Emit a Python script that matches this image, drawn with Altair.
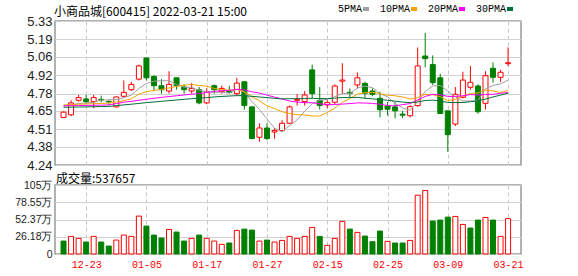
import altair as alt
import pandas as pd

# ---------------- data ----------------
dates = ["12-20", "12-21", "12-22", "12-23", "12-24", "12-27", "12-28", "12-29", "12-30", "12-31",
         "01-04", "01-05", "01-06", "01-07", "01-10", "01-11", "01-12", "01-13", "01-14", "01-17",
         "01-18", "01-19", "01-20", "01-21", "01-24", "01-25", "01-26", "01-27", "01-28", "02-07",
         "02-08", "02-09", "02-10", "02-11", "02-14", "02-15", "02-16", "02-17", "02-18", "02-21",
         "02-22", "02-23", "02-24", "02-25", "02-28", "03-01", "03-02", "03-03", "03-04", "03-07",
         "03-08", "03-09", "03-10", "03-11", "03-14", "03-15", "03-16", "03-17", "03-18", "03-21"]

opens = [4.60, 4.62, 4.73, 4.74, 4.72, 4.737, 4.722, 4.68, 4.76, 4.81,
         4.89, 5.05, 4.91, 4.84, 4.80, 4.90, 4.83, 4.80, 4.81, 4.71,
         4.84, 4.795, 4.80, 4.78, 4.87, 4.68, 4.45, 4.52, 4.49, 4.50,
         4.556, 4.73, 4.72, 4.96, 4.73, 4.695, 4.715, 4.875, 4.79, 4.846,
         4.858, 4.80, 4.745, 4.687, 4.68, 4.625, 4.613, 4.69, 5.065, 5.00,
         4.90, 4.65, 4.55, 4.752, 4.828, 4.838, 4.707, 4.972, 4.904, 5.007]
closes = [4.64, 4.71, 4.75, 4.72, 4.75, 4.732, 4.717, 4.755, 4.79, 4.85,
          4.99, 4.90, 4.84, 4.81, 4.85, 4.84, 4.81, 4.82, 4.71, 4.795,
          4.81, 4.82, 4.79, 4.86, 4.69, 4.44, 4.52, 4.44, 4.50, 4.556,
          4.68, 4.735, 4.77, 4.78, 4.69, 4.712, 4.838, 4.883, 4.783, 4.90,
          4.783, 4.775, 4.658, 4.662, 4.65, 4.617, 4.681, 4.99, 5.045, 4.863,
          4.63, 4.47, 4.775, 4.883, 4.866, 4.643, 4.916, 4.904, 4.942, 5.014]
highs = [4.645, 4.73, 4.77, 4.77, 4.77, 4.765, 4.73, 4.76, 4.88, 4.87,
         5.00, 5.05, 4.92, 4.89, 4.95, 4.90, 4.85, 4.86, 4.83, 4.82,
         4.85, 4.84, 4.84, 4.90, 4.87, 4.68, 4.556, 4.556, 4.52, 4.58,
         4.69, 4.777, 4.80, 5.00, 4.83, 4.73, 4.85, 5.01, 4.82, 4.94,
         4.87, 4.82, 4.795, 4.717, 4.715, 4.65, 4.694, 5.13, 5.24, 5.07,
         4.93, 4.65, 4.83, 4.946, 4.99, 4.851, 4.95, 5.017, 4.96, 5.13]
lows = [4.595, 4.61, 4.72, 4.70, 4.67, 4.715, 4.69, 4.675, 4.75, 4.80,
        4.88, 4.88, 4.80, 4.78, 4.78, 4.81, 4.78, 4.78, 4.70, 4.70,
        4.78, 4.78, 4.78, 4.765, 4.66, 4.435, 4.416, 4.43, 4.44, 4.49,
        4.55, 4.69, 4.69, 4.745, 4.66, 4.67, 4.70, 4.78, 4.75, 4.82,
        4.745, 4.76, 4.60, 4.615, 4.593, 4.595, 4.60, 4.68, 4.98, 4.846,
        4.628, 4.34, 4.535, 4.745, 4.81, 4.628, 4.66, 4.863, 4.87, 4.99]

# volume in 万 shares, and bar colour direction as drawn
volumes = [19.7, 26.8, 23.8, 18.2, 26.8, 18.2, 12.1, 21.2, 28.8, 26.8,
           57.7, 42.5, 28.8, 24.3, 37.4, 33.4, 19.7, 23.8, 28.8, 23.8,
           19.7, 14.7, 16.7, 35.9, 37.9, 36.4, 19.7, 21.2, 18.2, 20.7,
           26.8, 23.8, 26.8, 40.5, 26.8, 13.2, 23.8, 49.6, 37.9, 32.9,
           27.3, 18.7, 34.9, 19.2, 16.7, 16.7, 20.7, 89.5, 96.6, 50.1,
           51.6, 56.1, 57.2, 45.0, 39.5, 51.6, 55.6, 51.6, 26.8, 53.7657]
vol_dir = ["down", "up", "up", "down", "up", "down", "down", "up", "up", "up",
           "up", "down", "down", "down", "up", "down", "down", "up", "down", "up",
           "up", "up", "down", "up", "down", "down", "up", "down", "up", "up",
           "up", "up", "up", "up", "down", "up", "up", "up", "down", "up",
           "down", "down", "down", "up", "down", "down", "up", "up", "up", "down",
           "down", "down", "up", "up", "down", "down", "up", "down", "up", "up"]

ma5 = [4.685, 4.695, 4.705, 4.71, 4.714, 4.732, 4.734, 4.735, 4.749, 4.769,
       4.820, 4.857, 4.874, 4.878, 4.878, 4.848, 4.830, 4.826, 4.806, 4.795,
       4.789, 4.791, 4.785, 4.815, 4.794, 4.720, 4.660, 4.590, 4.518, 4.491,
       4.539, 4.582, 4.648, 4.704, 4.731, 4.737, 4.758, 4.781, 4.781, 4.823,
       4.837, 4.825, 4.780, 4.756, 4.706, 4.672, 4.654, 4.720, 4.797, 4.839,
       4.842, 4.800, 4.757, 4.724, 4.725, 4.727, 4.817, 4.842, 4.854, 4.883]
ma10 = [4.695, 4.697, 4.700, 4.702, 4.704, 4.706, 4.709, 4.716, 4.726, 4.741,
        4.776, 4.795, 4.804, 4.813, 4.823, 4.834, 4.844, 4.850, 4.842, 4.837,
        4.819, 4.811, 4.806, 4.811, 4.795, 4.755, 4.726, 4.688, 4.667, 4.643,
        4.630, 4.621, 4.619, 4.611, 4.611, 4.638, 4.670, 4.714, 4.743, 4.777,
        4.787, 4.791, 4.780, 4.768, 4.764, 4.755, 4.739, 4.750, 4.776, 4.772,
        4.757, 4.727, 4.738, 4.760, 4.782, 4.785, 4.808, 4.800, 4.789, 4.804]
ma20 = [4.688, 4.689, 4.690, 4.691, 4.692, 4.693, 4.695, 4.705, 4.715, 4.722,
        4.730, 4.738, 4.745, 4.752, 4.758, 4.764, 4.770, 4.776, 4.781, 4.789,
        4.797, 4.803, 4.805, 4.812, 4.809, 4.794, 4.785, 4.769, 4.754, 4.740,
        4.724, 4.716, 4.712, 4.711, 4.703, 4.696, 4.698, 4.701, 4.705, 4.710,
        4.709, 4.706, 4.700, 4.690, 4.688, 4.697, 4.705, 4.732, 4.759, 4.775,
        4.772, 4.759, 4.759, 4.764, 4.773, 4.770, 4.774, 4.775, 4.783, 4.788]
ma30 = [4.677, 4.678, 4.679, 4.680, 4.681, 4.682, 4.683, 4.690, 4.695, 4.700,
        4.706, 4.712, 4.717, 4.722, 4.727, 4.732, 4.737, 4.742, 4.746, 4.750,
        4.755, 4.759, 4.762, 4.765, 4.765, 4.760, 4.755, 4.750, 4.745, 4.740,
        4.742, 4.742, 4.743, 4.745, 4.743, 4.742, 4.746, 4.751, 4.750, 4.752,
        4.745, 4.741, 4.735, 4.730, 4.723, 4.716, 4.712, 4.717, 4.728, 4.731,
        4.725, 4.713, 4.713, 4.713, 4.719, 4.726, 4.739, 4.755, 4.769, 4.784]

ma_names = ["5PMA", "10PMA", "20PMA", "30PMA"]
price_ticks = [4.24, 4.38, 4.51, 4.65, 4.78, 4.92, 5.06, 5.19, 5.33]
vol_ticks = [0, 26.18, 52.37, 78.55, 105]
date_ticks = ["12-23", "01-05", "01-17", "01-27", "02-15", "02-25", "03-09", "03-21"]
title_text = "小商品城[600415] 2022-03-21 15:00"

# ---------------- styling ----------------
RED = "#ff0000"
GREEN = "#008000"
ma_colors = ["#a0a0a0", "#f5a300", "#ff00ff", "#00703a"]
GRID = "#d2d2d2"
VGRID = "#c8c8c8"

n = len(dates)
df = pd.DataFrame({"i": list(range(n)), "date": dates, "open": opens, "close": closes,
                   "high": highs, "low": lows, "vol": volumes, "vdir": vol_dir})
df["dir"] = ["up" if c >= o else "down" for o, c in zip(opens, closes)]

ma_rows = []
for name, vals in zip(ma_names, [ma5, ma10, ma20, ma30]):
    for k, v in enumerate(vals):
        ma_rows.append({"i": k, "ma": name, "value": v})
ma_df = pd.DataFrame(ma_rows)

tick_idx = [dates.index(d) for d in date_ticks]
label_arr = "[" + ",".join("'" + d + "'" for d in dates) + "]"
label_expr = label_arr + "[round(datum.value)]"

xscale = alt.Scale(domain=[-0.47, 60.05], nice=False, zero=False)
pscale = alt.Scale(domain=[4.24, 5.33], nice=False, zero=False)
vscale = alt.Scale(domain=[0, 105], nice=False)

stroke_scale = alt.Scale(domain=["up", "down"], range=[RED, GREEN])
fill_scale = alt.Scale(domain=["up", "down"], range=["#ffffff", GREEN])

x_price = alt.X("i:Q", scale=xscale,
                axis=alt.Axis(values=tick_idx, labels=False, ticks=False, domain=False,
                              grid=True, gridDash=[4, 3], gridColor=VGRID, title=None,
                              minExtent=0, maxExtent=0))
y_axis_price = alt.Axis(values=price_ticks, format=".2f", ticks=False, domain=False,
                        grid=True, gridColor=GRID, title=None, labelFont="Liberation Sans",
                        labelFontSize=13, labelColor="#222", labelPadding=3,
                        labelOverlap=False, minExtent=50, maxExtent=50)

wick = alt.Chart(df).mark_rule(strokeWidth=1).encode(
    x=x_price,
    y=alt.Y("low:Q", scale=pscale, axis=y_axis_price),
    y2="high:Q",
    stroke=alt.Stroke("dir:N", scale=stroke_scale, legend=None),
)
body = alt.Chart(df).mark_bar(size=5, strokeWidth=1).encode(
    x=x_price,
    y=alt.Y("open:Q", scale=pscale, axis=y_axis_price),
    y2="close:Q",
    fill=alt.Fill("dir:N", scale=fill_scale, legend=None),
    stroke=alt.Stroke("dir:N", scale=stroke_scale, legend=None),
)
lines = alt.Chart(ma_df).mark_line(strokeWidth=1).encode(
    x=x_price,
    y=alt.Y("value:Q", scale=pscale, axis=y_axis_price),
    color=alt.Color("ma:N", scale=alt.Scale(domain=ma_names, range=ma_colors), sort=ma_names,
                    legend=alt.Legend(orient="none", legendX=306, legendY=-17,
                                      direction="horizontal", title=None,
                                      symbolType="stroke", symbolStrokeWidth=4, symbolSize=36,
                                      labelFont="Liberation Mono", labelFontSize=10,
                                      labelColor="#000", labelAlign="right",
                                      labelOffset={"expr": "-9"},
                                      columnPadding=2)),
)
price = alt.layer(wick, body, lines).properties(width=466, height=144)

vol_title = "成交量:" + str(round(volumes[-1] * 10000))
vol = alt.Chart(df).mark_bar(size=5, strokeWidth=1).encode(
    x=alt.X("i:Q", scale=xscale,
            axis=alt.Axis(values=tick_idx, labelExpr=label_expr, ticks=False, domain=False,
                          grid=True, gridDash=[4, 3], gridColor=VGRID, title=None,
                          labelColor=RED, labelFont="Liberation Mono", labelFontSize=10,
                          labelPadding=5, labelFlush=False, labelOverlap=False)),
    y=alt.Y("vol:Q", scale=vscale,
            axis=alt.Axis(values=vol_ticks, labelExpr="datum.value == 0 ? '0' : datum.value + '万'",
                          ticks=False, domain=False, grid=True, gridColor=GRID, title=None,
                          labelFont="Liberation Sans", labelFontSize=10.5, labelColor="#222",
                          labelPadding=3, labelOverlap=False, minExtent=50, maxExtent=50)),
    y2=alt.datum(0),
    fill=alt.Fill("vdir:N", scale=fill_scale, legend=None),
    stroke=alt.Stroke("vdir:N", scale=stroke_scale, legend=None),
).properties(width=466, height=69,
             title=alt.TitleParams(vol_title, anchor="start", frame="group", fontSize=12,
                                   font="Noto Sans CJK SC", fontWeight="normal", color="#000",
                                   offset=-6, dx=1))

chart = alt.vconcat(price, vol, spacing=-1).properties(
    title=alt.TitleParams(title_text, anchor="start", frame="group", fontSize=12,
                          font="Noto Sans CJK SC", fontWeight="normal", color="#000",
                          offset=-15, dx=-1),
    padding={"left": 4, "top": 4, "right": 5, "bottom": 2},
    background="white",
).configure_view(stroke="#999999", strokeWidth=1.5)

chart.save("out.html", embed_options={"renderer": "svg", "actions": False})
